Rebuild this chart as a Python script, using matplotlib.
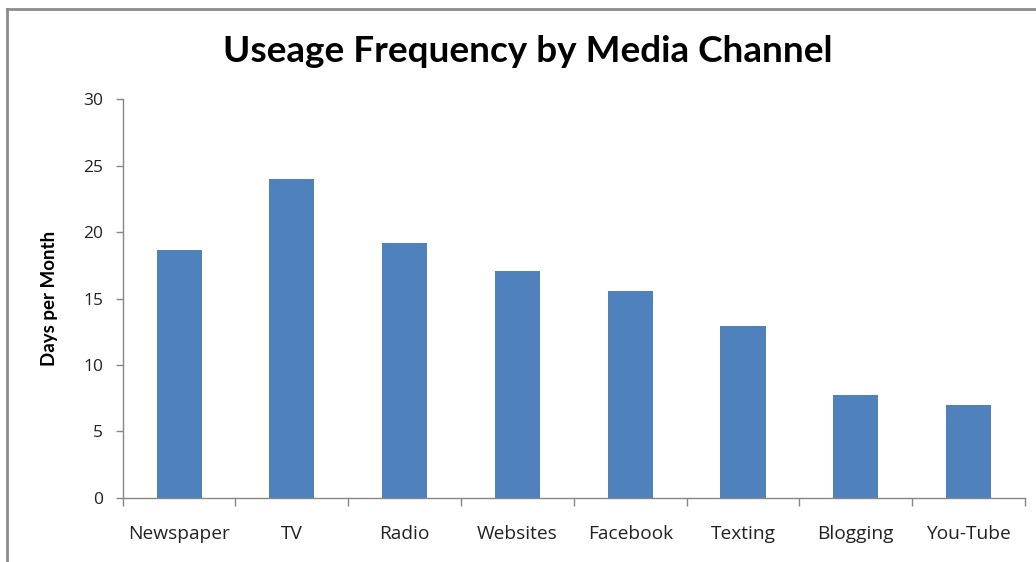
import matplotlib

matplotlib.use("Agg")
import matplotlib.pyplot as plt
from matplotlib.lines import Line2D

channels = ["Newspaper", "TV", "Radio", "Websites", "Facebook", "Texting", "Blogging", "You-Tube"]
days_per_month = [18.65, 24.0, 19.2, 17.05, 15.55, 12.95, 7.75, 7.0]
y_ticks = [0, 5, 10, 15, 20, 25, 30]

BAR_COLOR = "#4f81bd"
AXIS_GRAY = "#868686"

plt.rcParams["font.family"] = ["Open Sans", "DejaVu Sans"]

fig = plt.figure(figsize=(10.36, 5.62), dpi=100)
ax = fig.add_axes([0.1184, 0.1144, 0.8710, 0.7089])

x = range(len(channels))
ax.bar(x, days_per_month, width=0.4, color=BAR_COLOR, zorder=2)

ax.set_xlim(-0.5, len(channels) - 0.5)
ax.set_ylim(0, 30)
ax.set_yticks(y_ticks)
ax.tick_params(axis="y", direction="out", length=5, width=1, color=AXIS_GRAY,
               labelsize=12.5, pad=9, labelcolor="#222222")

# category labels sit at the centres, tick marks at the boundaries
ax.set_xticks(list(x))
ax.set_xticklabels(channels)
ax.tick_params(axis="x", length=0, labelsize=13.8, pad=20, labelcolor="#222222")
ax.set_xticks([i - 0.5 for i in range(len(channels) + 1)], minor=True)
ax.tick_params(axis="x", which="minor", direction="out", length=6, width=1, color=AXIS_GRAY)

for side in ("top", "right"):
    ax.spines[side].set_visible(False)
for side in ("left", "bottom"):
    ax.spines[side].set_color(AXIS_GRAY)
    ax.spines[side].set_linewidth(1)

ax.set_ylabel("Days per Month", fontsize=13.5, fontweight="bold", labelpad=18,
              family=["Lato", "DejaVu Sans"])

fig.text(0.509, 0.908, "Useage Frequency by Media Channel", ha="center", va="center",
         fontsize=26.6, fontweight="bold", family=["Lato", "DejaVu Sans"])

# outer chart frame (top and left edges)
fig.add_artist(Line2D([6.5 / 1036, 6.5 / 1036], [0, 1 - 9 / 562], transform=fig.transFigure,
                      color="#8c8c8c", lw=2))
fig.add_artist(Line2D([6.5 / 1036, 1], [1 - 9 / 562, 1 - 9 / 562], transform=fig.transFigure,
                      color="#8c8c8c", lw=2))

fig.savefig("out.png", dpi=100)
